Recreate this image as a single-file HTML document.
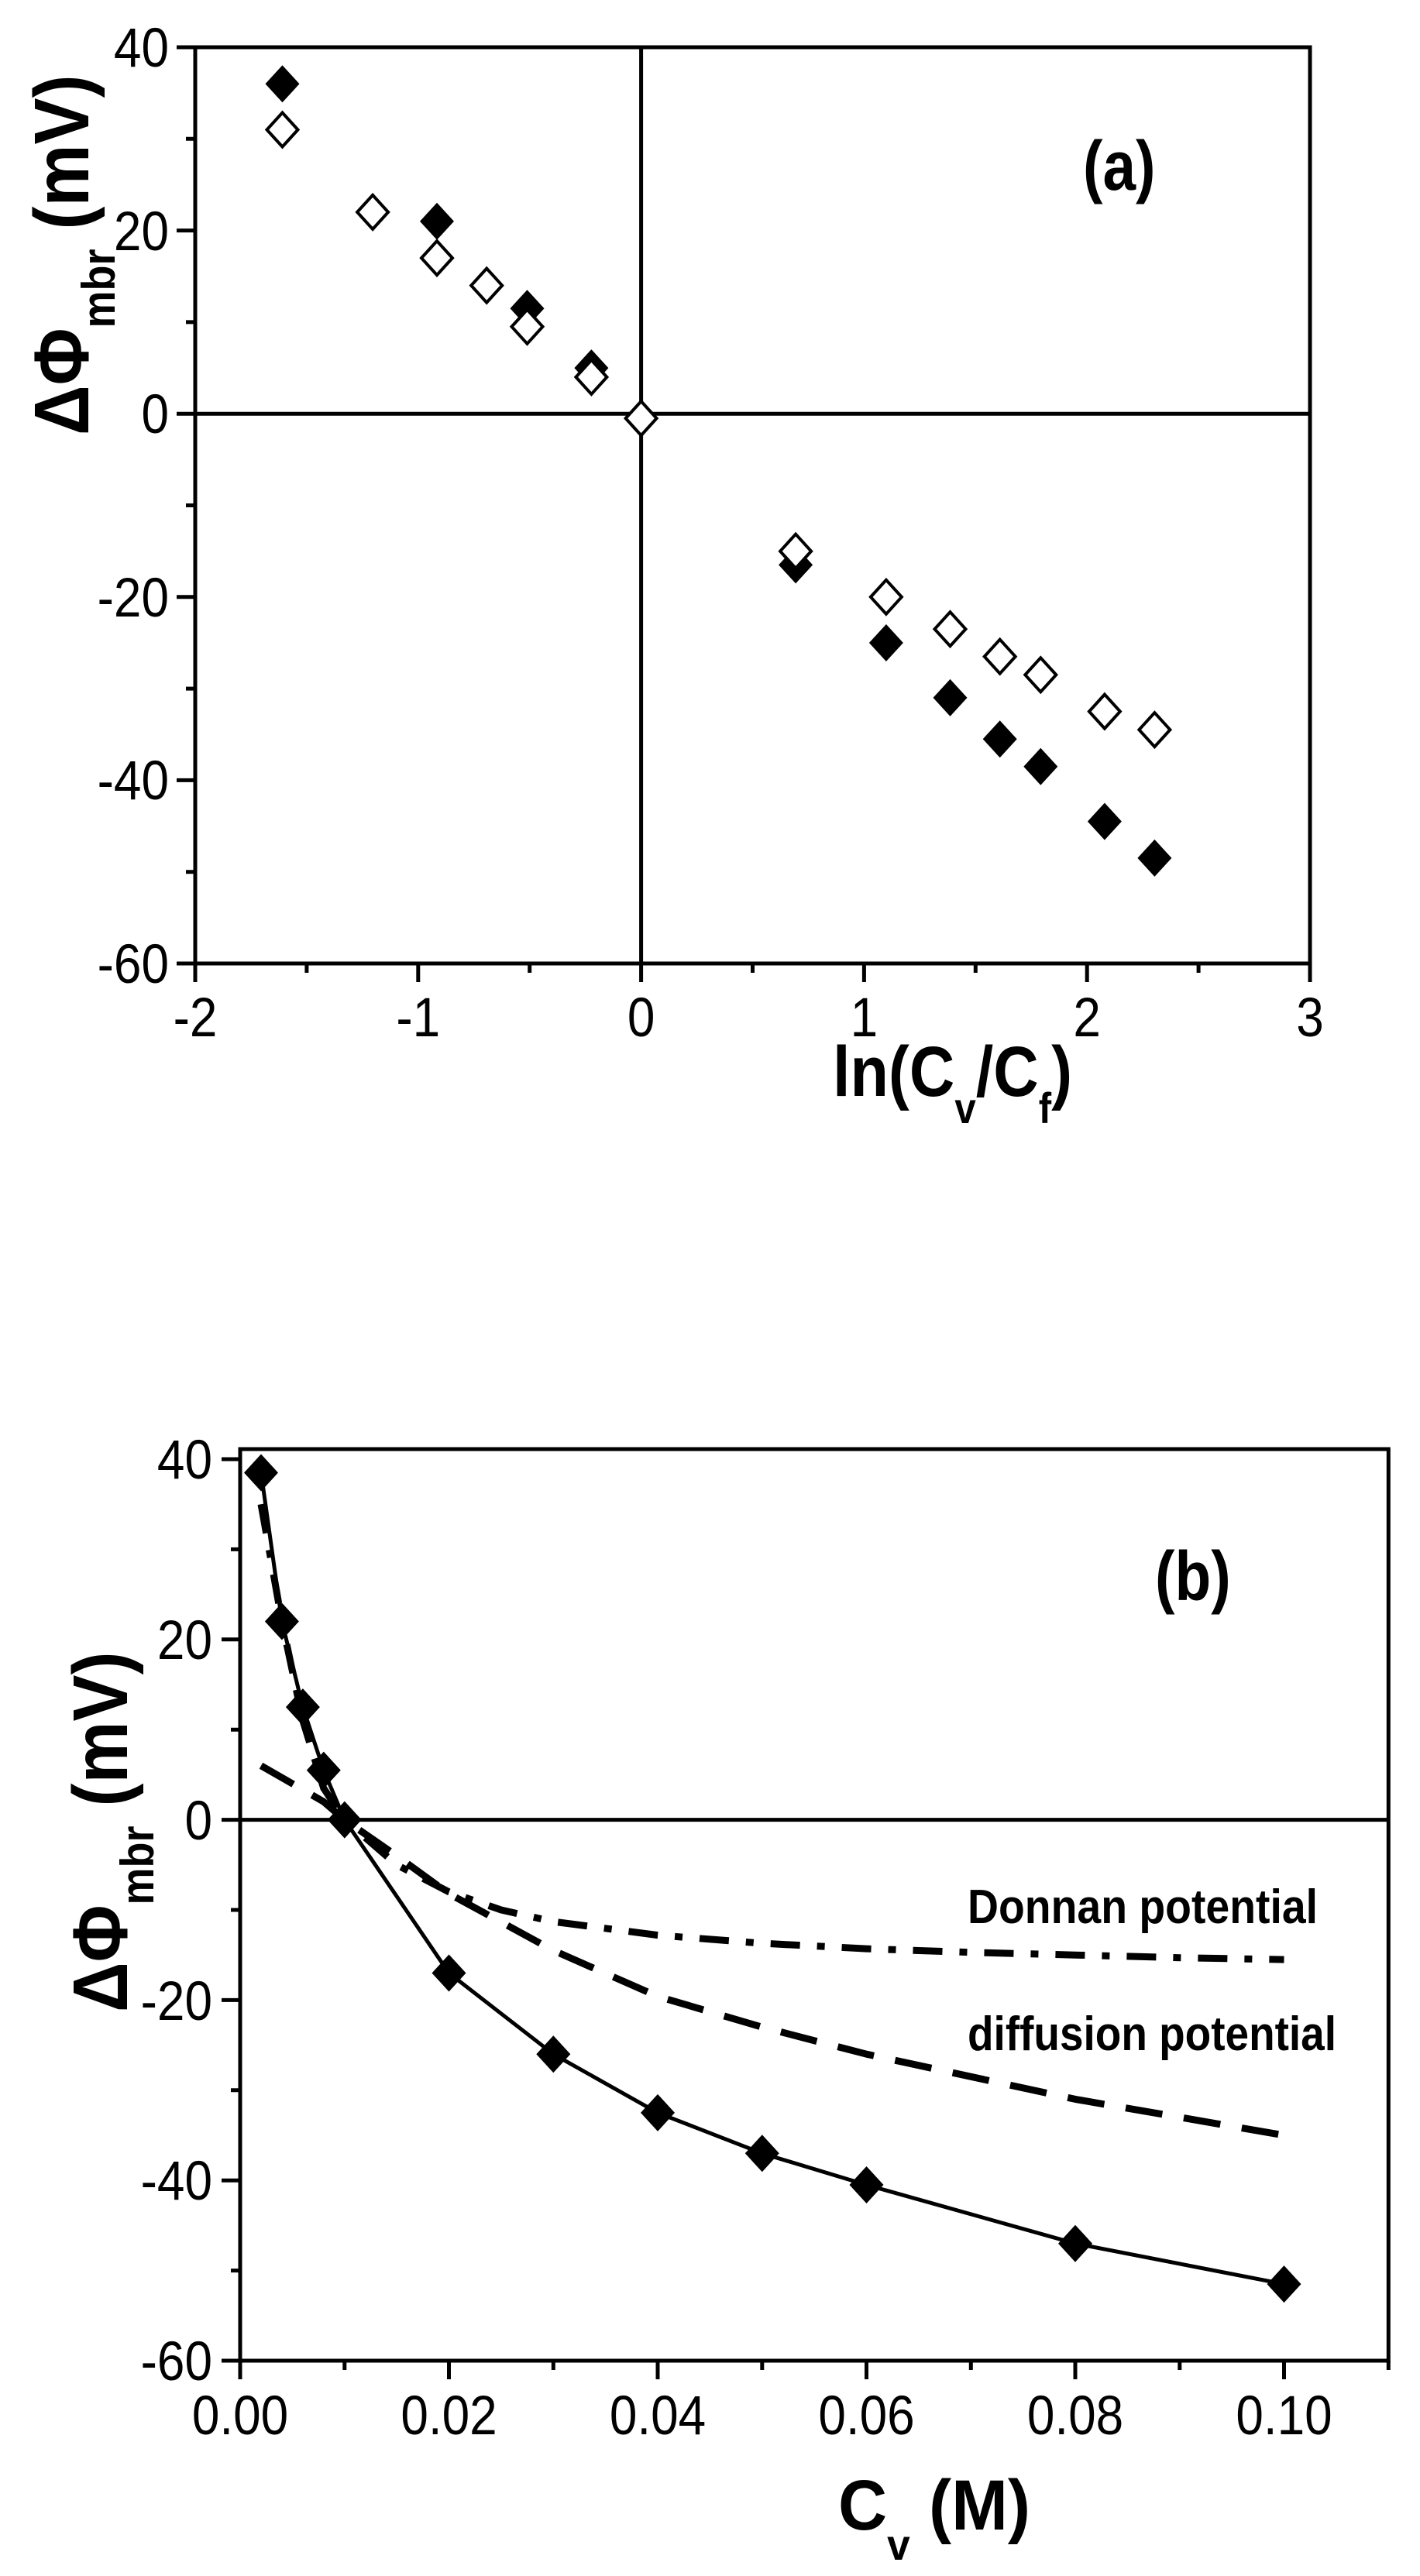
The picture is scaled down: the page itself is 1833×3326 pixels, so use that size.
<!DOCTYPE html>
<html><head><meta charset="utf-8"><style>html,body{margin:0;padding:0;background:#fff}svg{display:block}</style></head>
<body>
<svg xmlns="http://www.w3.org/2000/svg" width="1833" height="3326" viewBox="0 0 1833 3326">
<defs>
<path id="fd" d="M0,-24 L22,0 L0,24 L-22,0Z" fill="#000"/>
<path id="od" d="M0,-22 L20,0 L0,22 L-20,0Z" fill="#fff" stroke="#000" stroke-width="4"/>
</defs>
<g font-family="Liberation Sans, Arial, sans-serif" fill="#000">
<!-- ===== TOP CHART ===== -->
<g stroke="#000" stroke-width="5" fill="none">
<rect x="252" y="61" width="1439" height="1183"/>
<line x1="827.6" y1="61" x2="827.6" y2="1244"/>
<line x1="252" y1="534.2" x2="1691" y2="534.2"/>
<path d="M228,61H252M228,297.6H252M228,534.2H252M228,770.8H252M228,1007.4H252M228,1244H252
M240,179.3H252M240,415.9H252M240,652.5H252M240,889.1H252M240,1125.7H252
M252,1244V1268M539.8,1244V1268M827.6,1244V1268M1115.4,1244V1268M1403.2,1244V1268M1691,1244V1268
M395.9,1244V1256M683.7,1244V1256M971.5,1244V1256M1259.3,1244V1256M1547.1,1244V1256"/>
</g>
<g font-size="71" text-anchor="end">
<text transform="translate(218,86) scale(0.9,1)">40</text>
<text transform="translate(218,323) scale(0.9,1)">20</text>
<text transform="translate(218,559) scale(0.9,1)">0</text>
<text transform="translate(218,796) scale(0.9,1)">-20</text>
<text transform="translate(218,1032) scale(0.9,1)">-40</text>
<text transform="translate(218,1269) scale(0.9,1)">-60</text>
</g>
<g font-size="71" text-anchor="middle">
<text transform="translate(252,1338) scale(0.9,1)">-2</text>
<text transform="translate(539.8,1338) scale(0.9,1)">-1</text>
<text transform="translate(827.6,1338) scale(0.9,1)">0</text>
<text transform="translate(1115.4,1338) scale(0.9,1)">1</text>
<text transform="translate(1403.2,1338) scale(0.9,1)">2</text>
<text transform="translate(1691,1338) scale(0.9,1)">3</text>
</g>
<text font-weight="bold" font-size="90" transform="translate(1398,245) scale(0.85,1)">(a)</text>
<text font-weight="bold" font-size="92" transform="translate(1075,1415) scale(0.88,1)">ln(C<tspan font-size="56" dy="35">v</tspan><tspan dy="-35">/C</tspan><tspan font-size="56" dy="35">f</tspan><tspan dy="-35">)</tspan></text>
<text font-weight="bold" font-size="100" transform="translate(114,562) rotate(-90) scale(0.9,1)">ΔΦ<tspan font-size="60" dy="34">mbr</tspan><tspan dy="-34"> (mV)</tspan></text>

<!-- markers top -->
<g>
<use href="#fd" x="364.5" y="108.3"/><use href="#fd" x="564" y="285.8"/><use href="#fd" x="680.5" y="398.2"/><use href="#fd" x="763.4" y="475.1"/>
<use href="#fd" x="1027.1" y="729.4"/><use href="#fd" x="1143.9" y="830"/><use href="#fd" x="1226.5" y="900.9"/><use href="#fd" x="1290.7" y="954.2"/>
<use href="#fd" x="1343.3" y="989.7"/><use href="#fd" x="1425.9" y="1060.6"/><use href="#fd" x="1490.4" y="1107.9"/>
<use href="#od" x="364.5" y="167.5"/><use href="#od" x="481.1" y="273.9"/><use href="#od" x="564" y="333.1"/><use href="#od" x="628.2" y="368.6"/>
<use href="#od" x="680.5" y="421.8"/><use href="#od" x="763.4" y="486.9"/><use href="#od" x="827.6" y="540.1"/><use href="#od" x="1027.1" y="711.7"/>
<use href="#od" x="1143.9" y="770.8"/><use href="#od" x="1226.5" y="812.2"/><use href="#od" x="1290.7" y="847.7"/><use href="#od" x="1343.3" y="871.3"/>
<use href="#od" x="1425.9" y="918.6"/><use href="#od" x="1490.4" y="942.2"/>
</g>

<!-- ===== BOTTOM CHART ===== -->
<g stroke="#000" stroke-width="5" fill="none">
<rect x="310" y="1871" width="1482.3" height="1177"/>
<line x1="310" y1="2349.6" x2="1792.3" y2="2349.6"/>
<path d="M286,1884H310M286,2116.8H310M286,2349.6H310M286,2582.4H310M286,2815.2H310M286,3048H310
M298,2000.4H310M298,2233.2H310M298,2466H310M298,2698.8H310M298,2931.6H310
M310,3048V3072M579.5,3048V3072M849,3048V3072M1118.5,3048V3072M1388,3048V3072M1657.5,3048V3072
M444.8,3048V3060M714.3,3048V3060M983.8,3048V3060M1253.3,3048V3060M1522.8,3048V3060M1792.3,3048V3060"/>
</g>
<g font-size="71" text-anchor="end">
<text transform="translate(274,1909) scale(0.9,1)">40</text>
<text transform="translate(274,2142) scale(0.9,1)">20</text>
<text transform="translate(274,2375) scale(0.9,1)">0</text>
<text transform="translate(274,2608) scale(0.9,1)">-20</text>
<text transform="translate(274,2840) scale(0.9,1)">-40</text>
<text transform="translate(274,3073) scale(0.9,1)">-60</text>
</g>
<g font-size="71" text-anchor="middle">
<text transform="translate(310,3143) scale(0.9,1)">0.00</text>
<text transform="translate(579.5,3143) scale(0.9,1)">0.02</text>
<text transform="translate(849,3143) scale(0.9,1)">0.04</text>
<text transform="translate(1118.5,3143) scale(0.9,1)">0.06</text>
<text transform="translate(1388,3143) scale(0.9,1)">0.08</text>
<text transform="translate(1657.5,3143) scale(0.9,1)">0.10</text>
</g>
<text font-weight="bold" font-size="90" transform="translate(1491,2066) scale(0.85,1)">(b)</text>
<text font-weight="bold" font-size="62" x="1249" y="2483" textLength="452" lengthAdjust="spacingAndGlyphs">Donnan potential</text>
<text font-weight="bold" font-size="62" x="1249" y="2647" textLength="476" lengthAdjust="spacingAndGlyphs">diffusion potential</text>
<text font-weight="bold" font-size="92" transform="translate(1082,3266) scale(0.95,1)">C<tspan font-size="56" dy="39">v</tspan><tspan dy="-39"> (M)</tspan></text>
<text font-weight="bold" font-size="100" transform="translate(164,2598) rotate(-90) scale(0.9,1)">ΔΦ<tspan font-size="60" dy="34">mbr</tspan><tspan dy="-34"> (mV)</tspan></text>

<g fill="none" stroke="#000" stroke-linejoin="round">
<polyline stroke-width="9" stroke-dasharray="38,22,10,22" points="337,1942.2 363.9,2093.5 390.9,2221.6 417.8,2308.9 444.8,2349.6 471.7,2372.9 512.1,2407.8 579.5,2442.7 646.9,2466 714.3,2481.1 849,2498.6 983.8,2509.1 1118.5,2516.1 1253.3,2520.8 1388,2524.2 1522.8,2527.7 1657.5,2530.1"/>
<polyline stroke-width="9" stroke-dasharray="48,28" points="337,2279.8 377.4,2303 417.8,2326.3 444.8,2349.6 512.1,2396.2 579.5,2445 714.3,2518.3 849,2577.7 983.8,2617.3 1118.5,2652.2 1388,2710.4 1657.5,2757"/>
<polyline stroke-width="5" points="337,1901.5 363.9,2093.5 390.9,2204.1 417.8,2285.6 444.8,2349.6 579.5,2547.5 714.3,2652.2 849,2727.9 983.8,2780.3 1118.5,2821 1388,2896.7 1657.5,2949.1"/>
</g>
<g>
<use href="#fd" x="337" y="1901.5"/><use href="#fd" x="363.9" y="2093.5"/><use href="#fd" x="390.9" y="2204.1"/><use href="#fd" x="417.8" y="2285.6"/>
<use href="#fd" x="444.8" y="2349.6"/><use href="#fd" x="579.5" y="2547.5"/><use href="#fd" x="714.3" y="2652.2"/><use href="#fd" x="849" y="2727.9"/>
<use href="#fd" x="983.8" y="2780.3"/><use href="#fd" x="1118.5" y="2821"/><use href="#fd" x="1388" y="2896.7"/><use href="#fd" x="1657.5" y="2949.1"/>
</g>
</g>
</svg>
</body></html>
